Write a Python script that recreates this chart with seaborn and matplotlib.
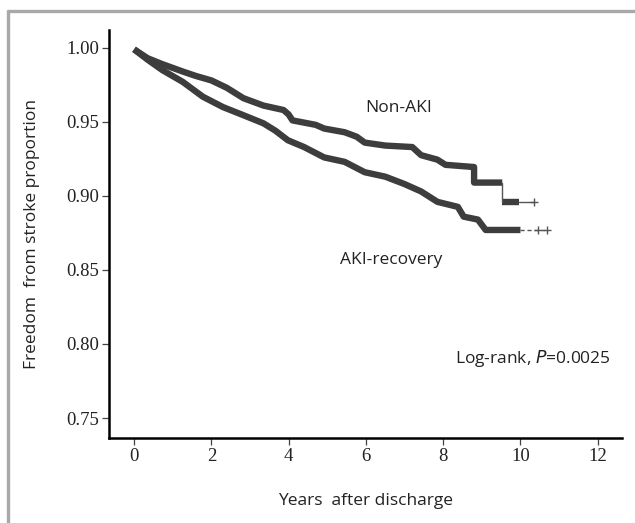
import numpy as np
import pandas as pd
import matplotlib
matplotlib.use("Agg")
import matplotlib.pyplot as plt
import seaborn as sns
from matplotlib.lines import Line2D

# ---- data (Kaplan-Meier style curves) ----
non_aki_years = [0.0, 0.35, 0.73, 1.26, 1.6, 2.0, 2.4, 2.83, 3.35, 3.87, 4.0, 4.1, 4.7, 4.92,
                 5.45, 5.76, 5.97, 6.5, 7.2, 7.43, 7.85, 8.06, 8.8, 8.8, 9.53]
non_aki_surv = [0.999, 0.993, 0.989, 0.984, 0.981, 0.978, 0.973, 0.966, 0.961, 0.958, 0.955, 0.951,
                0.948, 0.9455, 0.943, 0.940, 0.936, 0.934, 0.933, 0.9275, 0.9245, 0.921,
                0.9195, 0.909, 0.909]
non_aki_last_years = [9.53, 9.95]
non_aki_last_surv = [0.896, 0.896]
non_aki_tail_years = [9.95, 10.35]
non_aki_tail_surv = [0.896, 0.896]

aki_years = [0.0, 0.35, 0.73, 1.26, 1.78, 2.3, 2.83, 3.35, 3.66, 3.98, 4.4, 4.92, 5.45, 5.97,
             6.5, 7.0, 7.43, 7.85, 8.38, 8.53, 8.9, 9.1, 10.0]
aki_surv = [0.999, 0.992, 0.985, 0.977, 0.967, 0.960, 0.9545, 0.949, 0.944, 0.9376, 0.933, 0.926,
            0.923, 0.916, 0.913, 0.908, 0.903, 0.896, 0.8926, 0.886, 0.884, 0.877, 0.877]
aki_tail_years = [10.0, 10.7]
aki_tail_surv = [0.877, 0.877]
aki_censor_years = [10.45, 10.7]
non_aki_censor_years = [10.35]

x_ticks = [0, 2, 4, 6, 8, 10, 12]
y_ticks = [0.75, 0.80, 0.85, 0.90, 0.95, 1.00]

curve_color = "#3d3d3d"
thin_color = "#555555"
text_color = "#222222"
label_font = "Open Sans"
tick_font = "Liberation Serif"

sns.set_style("white")
fig = plt.figure(figsize=(6.35, 5.23), dpi=100)
ax = fig.add_axes([0.171, 0.1625, 0.808, 0.780])

# thick curves
for xs, ys in [(non_aki_years, non_aki_surv), (non_aki_last_years, non_aki_last_surv),
               (aki_years, aki_surv)]:
    df = pd.DataFrame({"t": xs, "s": ys})
    sns.lineplot(data=df, x="t", y="s", estimator=None, sort=False, ax=ax,
                 color=curve_color, linewidth=4.6, solid_capstyle="butt")

# thin drop, tails + censor marks
sns.lineplot(x=[non_aki_years[-1], non_aki_last_years[0]], y=[non_aki_surv[-1], non_aki_last_surv[0]],
             estimator=None, sort=False, ax=ax, color=thin_color, linewidth=1.0)
sns.lineplot(x=non_aki_tail_years, y=non_aki_tail_surv, estimator=None, sort=False, ax=ax,
             color=thin_color, linewidth=1.0)
sns.lineplot(x=aki_tail_years, y=aki_tail_surv, estimator=None, sort=False, ax=ax,
             color=thin_color, linewidth=1.0, linestyle=(0, (3, 2)))
ax.plot(non_aki_censor_years, [non_aki_tail_surv[0]] * len(non_aki_censor_years), "+",
        color=thin_color, markersize=6, mew=1)
ax.plot(aki_censor_years, [aki_tail_surv[0]] * len(aki_censor_years), "+",
        color=thin_color, markersize=6, mew=1)

ax.set_xlim(-0.66, 12.62)
ax.set_ylim(0.7365, 1.012)
ax.set_xticks(x_ticks)
ax.set_yticks(y_ticks)
ax.set_xticklabels([str(v) for v in x_ticks], fontfamily=tick_font, fontsize=13.5, color=text_color)
ax.set_yticklabels([f"{v:.2f}" for v in y_ticks], fontfamily=tick_font, fontsize=13.5, color=text_color)
ax.tick_params(axis="both", direction="out", length=5, width=0.9, color="#444444", pad=2,
               left=True, bottom=True)

for side in ["top", "right"]:
    ax.spines[side].set_visible(False)
for side in ["left", "bottom"]:
    ax.spines[side].set_linewidth(1.8)
    ax.spines[side].set_color("black")

ax.set_xlabel("Years  after discharge", fontfamily=label_font, fontsize=12.5, labelpad=20,
              color=text_color)
ax.set_ylabel("Freedom  from stroke proportion", fontfamily=label_font, fontsize=12.5,
              labelpad=19, color=text_color)

ax.text(6.86, 0.9593, "Non-AKI", fontfamily=label_font, fontsize=12.5, ha="center", va="center",
        color=text_color)
ax.text(6.65, 0.8566, "AKI-recovery", fontfamily=label_font, fontsize=12.5, ha="center", va="center",
        color=text_color)
ax.text(12.34, 0.7905, "Log-rank, $\\it{P}$=0.0025", fontfamily=label_font, fontsize=12.5,
        ha="right", va="center", color=text_color)

# grey frame around the figure (top and left edges)
fig.add_artist(Line2D([8 / 635, 1.0], [1 - 11 / 523, 1 - 11 / 523], transform=fig.transFigure,
                      color="#a8a8a8", linewidth=2.4))
fig.add_artist(Line2D([8 / 635, 8 / 635], [0.0, 1 - 11 / 523], transform=fig.transFigure,
                      color="#a8a8a8", linewidth=2.4))

fig.savefig("out.png", dpi=100)
